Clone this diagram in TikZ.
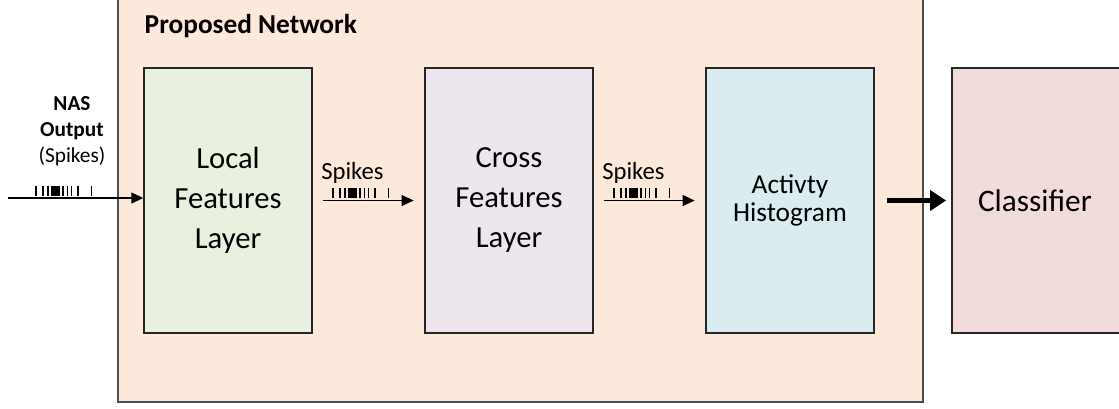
\documentclass[tikz,border=0pt]{standalone}
\usepackage{fontspec}
\setmainfont{Carlito}
\usepackage{xcolor}
\usepackage{tikz}
\usetikzlibrary{arrows.meta,positioning}

\definecolor{netfill}{HTML}{FCE9DC}
\definecolor{localfill}{HTML}{E9F0DF}
\definecolor{crossfill}{HTML}{EDE6EF}
\definecolor{actfill}{HTML}{DAECEF}
\definecolor{clsfill}{HTML}{F2DCDB}

% spike train: ticks above an arrow starting at #1
\newcommand{\spiketrain}[1]{%
  \foreach \d in {0,7,12,16,18,19,20,21,22,23,27,31.5,35.5,42,55.5} {
    \draw[spike] ([xshift=\d*0.75pt]#1) -- ++(0,-10);
  }}

\begin{document}
\begin{tikzpicture}[
x=0.75pt,y=-0.75pt,
layer/.style={draw=black!85, line width=0.9pt, minimum width=126pt, minimum height=198.75pt, align=center, inner sep=0pt},
netbox/.style={draw=black!70, line width=1pt, fill=netfill},
spike/.style={line width=0.9pt},
arr/.style={-{Triangle[length=9pt,width=8pt]}, line width=1.4pt},
bigarr/.style={-{Triangle[length=12pt,width=15pt]}, line width=3.2pt}
]
\useasboundingbox (0,0) rectangle (1119,408);
\clip (0,0) rectangle (1119,408);

\draw[netbox] (118,-10) rectangle (923,402);
\node[anchor=west, font=\fontsize{20.5}{24}\selectfont\bfseries] (title) at (140,26) {Proposed Network};

\node[layer, fill=localfill, font=\fontsize{23}{30}\selectfont] (local) at (228,200.5) {Local\\Features\\Layer};
\node[layer, fill=crossfill, font=\fontsize{23}{30}\selectfont] (cross) at (509,200.5) {Cross\\Features\\Layer};
\node[layer, fill=actfill, font=\fontsize{20.5}{20.5}\selectfont] (hist) at (790,200.5) {Activty\\Histogram};
\node[layer, fill=clsfill, minimum width=135pt, font=\fontsize{23.5}{26}\selectfont, text width=124pt, align=left] (cls) at (1042,200.5) {\hspace*{14pt}Classifier};

% input spikes
\node[align=center, font=\fontsize{16}{19.5}\selectfont] (nas) at (72,131) {\textbf{NAS}\\\textbf{Output}\\(Spikes)};
\coordinate (nasin) at (8,198);
\draw[arr] (nasin) -- (nasin -| local.west);
\spiketrain{36,196}

% spikes between layers
\draw[arr, shorten <=7.5pt, shorten >=8pt] (local.east) -- (cross.west);
\node[anchor=south west, inner sep=0pt, font=\fontsize{18.5}{20}\selectfont] (sp1) at (321,184) {Spikes};
\spiketrain{333,198}
\draw[arr, shorten <=7.5pt, shorten >=8pt] (cross.east) -- (hist.west);
\node[anchor=south west, inner sep=0pt, font=\fontsize{18.5}{20}\selectfont] (sp2) at (602,184) {Spikes};
\spiketrain{614,198}

\draw[bigarr, shorten <=9pt, shorten >=4pt] (hist.east) -- (cls.west);
\end{tikzpicture}
\end{document}
